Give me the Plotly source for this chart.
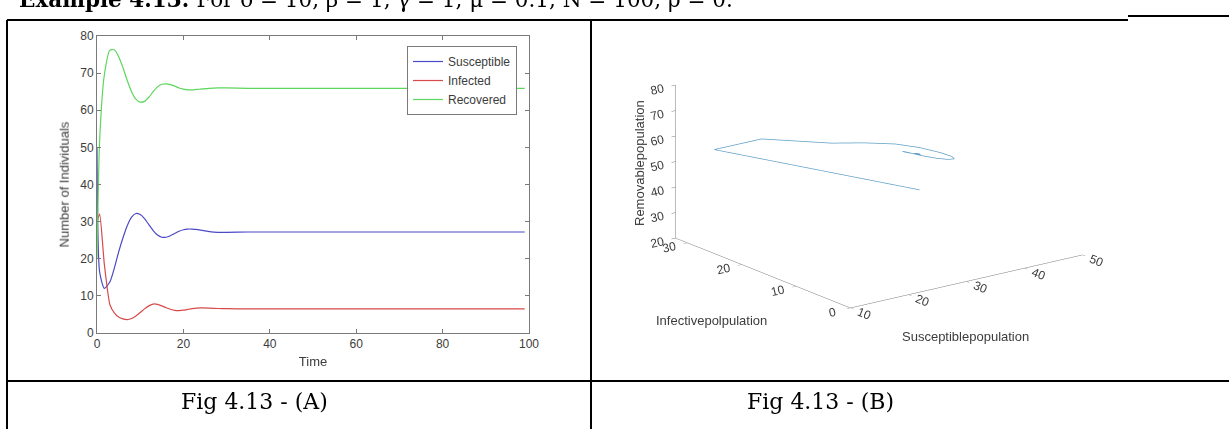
import plotly.graph_objects as go

# ---------------- data ----------------
time = [0, 0.6, 1.7, 3, 4, 5, 6, 7, 8, 9, 10, 11, 12, 13, 14, 15,
        16, 17, 18, 19, 20, 21, 22, 23, 24, 26, 28, 30, 35, 40, 50, 60, 70, 80, 90, 99]
susceptible = [50, 16.5, 12, 13.8, 17.4, 21.8, 25.6, 28.9, 31.2, 32.2, 31.9,
               30.8, 29.2, 27.6, 26.4, 25.8, 25.8, 26.2, 26.8, 27.4, 27.8, 28, 28, 27.9, 27.7,
               27.3, 27.1, 27.1, 27.2, 27.2, 27.2, 27.2, 27.2, 27.2, 27.2, 27.2]
infected = [30, 32, 18.5, 7.6, 5.4, 4.3, 3.8, 3.6, 3.9, 4.6, 5.5,
            6.5, 7.3, 7.8, 7.7, 7.3, 6.8, 6.4, 6.1, 6.05, 6.15, 6.35, 6.55, 6.7, 6.75,
            6.7, 6.6, 6.55, 6.5, 6.5, 6.5, 6.5, 6.5, 6.5, 6.5, 6.5]
recovered = [20, 51.5, 69.5, 76.2, 76.3, 74.5, 71.5, 68, 65, 63, 62.2,
             62.4, 63.5, 65, 66.3, 67, 67.1, 66.9, 66.5, 66, 65.7, 65.5, 65.5, 65.6, 65.7,
             65.9, 66, 66, 65.9, 65.9, 65.9, 65.9, 65.9, 65.9, 65.9, 65.9]

series_names = ["Susceptible", "Infected", "Recovered"]
series_colors = ["#4a4ac6", "#d64a4a", "#5cd65c"]

x_ticks = [0, 20, 40, 60, 80, 100]
y_ticks = [0, 10, 20, 30, 40, 50, 60, 70, 80]
s_ticks = [10, 20, 30, 40, 50]
i_ticks = [0, 10, 20, 30]
r_ticks = [20, 30, 40, 50, 60, 70, 80]

header_text = "<b>Example 4.13:</b> For δ = 10, β = 1, γ = 1, μ = 0.1, N = 100, ρ = 0."
caption_a = "Fig 4.13 - (A)"
caption_b = "Fig 4.13 - (B)"

W, H = 1229, 429
def px(x):
    return x / W
def py(y):
    return 1 - y / H

fig = go.Figure()

for name, vals, col in zip(series_names, [susceptible, infected, recovered], series_colors):
    fig.add_trace(go.Scatter(x=time, y=vals, mode="lines", name=name,
                             line=dict(color=col, width=1.2, shape="spline", smoothing=0.6),
                             xaxis="x", yaxis="y"))

fig.add_trace(go.Scatter3d(x=susceptible, y=infected, z=recovered, mode="lines",
                           line=dict(color="#5e9fc7", width=1.5), showlegend=False,
                           scene="scene"))

axis_font = dict(family="Liberation Sans, Arial", size=12, color="#3c3c3c")
eye_k = 4.0
scene_top, scene_bot = 8, 332
dom_h = scene_bot - scene_top
fig.update_layout(
    width=W, height=H,
    margin=dict(l=0, r=0, t=0, b=0, pad=0, autoexpand=False),
    paper_bgcolor="white", plot_bgcolor="white",
    font=dict(family="Liberation Sans, Arial", size=12, color="#3c3c3c"),
    xaxis=dict(domain=[px(97), px(529)], range=[0, 100], tickvals=x_ticks, automargin=False,
               showline=True, linecolor="#7a7a7a", linewidth=1, mirror="allticks",
               ticks="inside", ticklen=4, tickcolor="#7a7a7a", showgrid=False, zeroline=False,
               tickfont=axis_font,
               title=dict(text="Time", font=dict(size=13, color="#3c3c3c"), standoff=6)),
    yaxis=dict(domain=[py(333), py(36)], range=[0, 80], tickvals=y_ticks, automargin=False,
               showline=True, linecolor="#7a7a7a", linewidth=1, mirror="allticks",
               ticks="inside", ticklen=4, tickcolor="#7a7a7a", showgrid=False, zeroline=False,
               tickfont=axis_font,
               title=dict(text="Number of Individuals", font=dict(size=13, color="#3c3c3c"), standoff=8)),
    legend=dict(x=px(407), y=py(46), xanchor="left", yanchor="top",
                bgcolor="white", bordercolor="#7a7a7a", borderwidth=1,
                font=dict(size=12, color="#3c3c3c"), tracegroupgap=0),
    scene=dict(
        domain=dict(x=[px(620), px(1138)], y=[py(scene_bot), py(scene_top)]),
        aspectmode="manual",
        aspectratio=dict(x=2 * 291 / dom_h, y=2 * 290 / dom_h, z=2 * 160.5 / dom_h),
        camera=dict(eye=dict(x=-0.575 * eye_k, y=-0.760 * eye_k, z=0.302 * eye_k),
                    up=dict(x=0, y=0, z=1), center=dict(x=0, y=0, z=0),
                    projection=dict(type="orthographic")),
        xaxis=dict(range=[10, 50], tickvals=s_ticks, showgrid=False, showbackground=False,
                   showline=True, linecolor="#7a7a7a", ticks="outside", tickcolor="#7a7a7a",
                   zeroline=False, showspikes=False, title=dict(text=""), tickfont=axis_font),
        yaxis=dict(range=[0, 32.2], tickvals=i_ticks, showgrid=False, showbackground=False,
                   showline=True, linecolor="#7a7a7a", ticks="outside", tickcolor="#7a7a7a",
                   zeroline=False, showspikes=False, title=dict(text=""), tickfont=axis_font),
        zaxis=dict(range=[20, 80], tickvals=r_ticks, showgrid=False, showbackground=False,
                   showline=True, linecolor="#7a7a7a", ticks="outside", tickcolor="#7a7a7a",
                   zeroline=False, showspikes=False, title=dict(text=""), tickfont=axis_font),
    ),
)

title_font = dict(family="Liberation Sans, Arial", size=13, color="#3c3c3c")
serif = "DejaVu Serif, serif"
annotations = [
    dict(text="Removablepopulation", x=px(639), y=py(163), textangle=-90, font=title_font),
    dict(text="Infectivepolpulation", x=px(711), y=py(320), font=title_font),
    dict(text="Susceptiblepopulation", x=px(965), y=py(336), font=title_font),
    dict(text=header_text, x=px(17), y=py(14), xanchor="left", yanchor="bottom",
         font=dict(family=serif, size=21.5, color="black")),
    dict(text=caption_a, x=px(254), y=py(401), font=dict(family=serif, size=22, color="black")),
    dict(text=caption_b, x=px(820), y=py(401), font=dict(family=serif, size=22, color="black")),
]
for a in annotations:
    a.setdefault("xanchor", "center")
    a.setdefault("yanchor", "middle")
    a.update(xref="paper", yref="paper", showarrow=False)
fig.update_layout(annotations=annotations)

# table rules
lw = 2
shapes = [
    dict(x0=px(7), x1=px(1128), y0=py(20), y1=py(20)),
    dict(x0=px(1128), x1=1, y0=py(16), y1=py(16)),
    dict(x0=px(7), x1=px(7), y0=py(20), y1=0),
    dict(x0=px(591), x1=px(591), y0=py(20), y1=0),
    dict(x0=px(7), x1=1, y0=py(381), y1=py(381)),
]
for s in shapes:
    s.update(type="line", xref="paper", yref="paper", line=dict(color="black", width=lw))
fig.update_layout(shapes=shapes)

post = ("document.documentElement.style.margin='0';document.documentElement.style.overflow='hidden';"
        "document.body.style.margin='0';document.body.style.overflow='hidden';"
        "var d=document.getElementById('{plot_id}');d.style.position='fixed';"
        "d.style.left='0px';d.style.top='0px';")
fig.write_html("out.html", config={"displayModeBar": False}, post_script=post)
